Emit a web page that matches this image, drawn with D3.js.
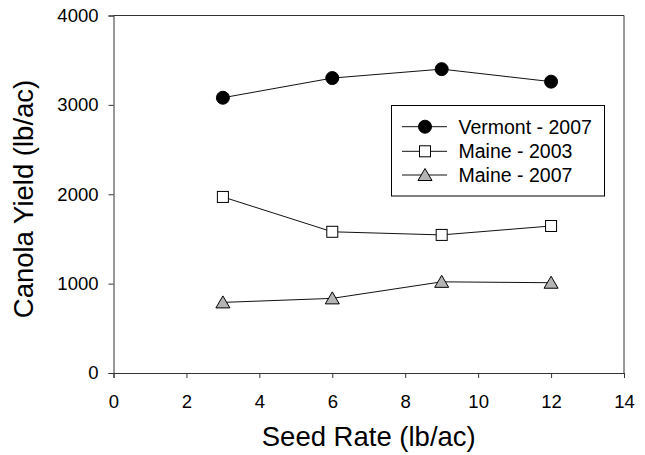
<!DOCTYPE html>
<html>
<head>
<meta charset="utf-8">
<script src="https://cdn.jsdelivr.net/npm/d3@7"></script>
<style>
  body { margin: 0; background: #fff; }
  text { font-family: Arial, "Liberation Sans", sans-serif; fill: #000; }
</style>
</head>
<body>
<div id="chart"></div>
<script>
// Chart data
const seedRates = [3, 6, 9, 12];
const vermont2007 = [3080, 3300, 3400, 3260];
const maine2003 = [1970, 1580, 1545, 1645];
const maine2007 = [790, 835, 1020, 1010];
const seriesNames = ['Vermont - 2007', 'Maine - 2003', 'Maine - 2007'];
const xTicks = [0, 2, 4, 6, 8, 10, 12, 14];
const yTicks = [0, 1000, 2000, 3000, 4000];

const width = 645;
const height = 455;
const margin = { top: 15.5, right: 21, bottom: 82, left: 113.5 };

const svg = d3.select('#chart').append('svg')
    .attr('width', width)
    .attr('height', height);

const x = d3.scaleLinear().domain([0, 14]).range([margin.left, width - margin.right]);
const y = d3.scaleLinear().domain([0, 4000]).range([height - margin.bottom, margin.top]);

// Frame (top and right lines)
svg.append('path')
    .attr('d', `M${x(0)},${y(4000)}H${x(14)}V${y(0)}`)
    .attr('fill', 'none')
    .attr('stroke', '#333')
    .attr('stroke-width', 1);

// Axes
const xAxis = svg.append('g')
    .attr('transform', `translate(0,${y(0)})`)
    .call(d3.axisBottom(x).tickValues(xTicks).tickSize(5).tickPadding(17).tickFormat(d3.format('d')));

const yAxis = svg.append('g')
    .attr('transform', `translate(${x(0)},0)`)
    .call(d3.axisLeft(y).tickValues(yTicks).tickSize(5).tickPadding(10).tickFormat(d3.format('d')));

[xAxis, yAxis].forEach(g => {
    g.select('.domain').attr('stroke', '#333').attr('stroke-width', 1);
    g.selectAll('.tick line').attr('stroke', '#333');
    g.selectAll('.tick text')
        .attr('font-family', 'Arial, "Liberation Sans", sans-serif')
        .attr('font-size', 18.5)
        .attr('fill', '#000');
});

// Axis titles
svg.append('text')
    .attr('x', (x(0) + x(14)) / 2)
    .attr('y', 446)
    .attr('text-anchor', 'middle')
    .attr('font-size', 27.5)
    .text('Seed Rate (lb/ac)');

svg.append('text')
    .attr('transform', `translate(33,199) rotate(-90)`)
    .attr('text-anchor', 'middle')
    .attr('font-size', 27.5)
    .text('Canola Yield (lb/ac)');

// Marker drawers
const markers = [
    g => g.append('circle').attr('r', 6.5).attr('fill', '#000').attr('stroke', '#000'),
    g => g.append('rect').attr('x', -5.5).attr('y', -5.5).attr('width', 11).attr('height', 11)
        .attr('fill', '#fff').attr('stroke', '#000'),
    g => g.append('path').attr('d', 'M0,-6.5L7,5.5L-7,5.5Z')
        .attr('fill', '#b4b4b4').attr('stroke', '#000')
];

const seriesValues = [vermont2007, maine2003, maine2007];
const line = d3.line().x(d => x(d[0])).y(d => y(d[1]));

seriesValues.forEach((vals, i) => {
    const pts = seedRates.map((s, j) => [s, vals[j]]);
    svg.append('path')
        .datum(pts)
        .attr('d', line)
        .attr('fill', 'none')
        .attr('stroke', '#111')
        .attr('stroke-width', 1);
    pts.forEach(p => {
        const g = svg.append('g').attr('transform', `translate(${x(p[0])},${y(p[1])})`);
        markers[i](g);
    });
});

// Legend
const legend = svg.append('g');
legend.append('rect')
    .attr('x', 391.5).attr('y', 105.5)
    .attr('width', 213).attr('height', 90.5)
    .attr('fill', '#fff').attr('stroke', '#000');

const rowY = [126.7, 151.3, 175];
seriesNames.forEach((name, i) => {
    legend.append('line')
        .attr('x1', 402).attr('x2', 447)
        .attr('y1', rowY[i]).attr('y2', rowY[i])
        .attr('stroke', '#111');
    markers[i](legend.append('g').attr('transform', `translate(425,${rowY[i]})`));
    legend.append('text')
        .attr('x', 458.5)
        .attr('y', rowY[i])
        .attr('dy', '0.35em')
        .attr('font-size', 19.5)
        .text(name);
});
</script>
</body>
</html>
